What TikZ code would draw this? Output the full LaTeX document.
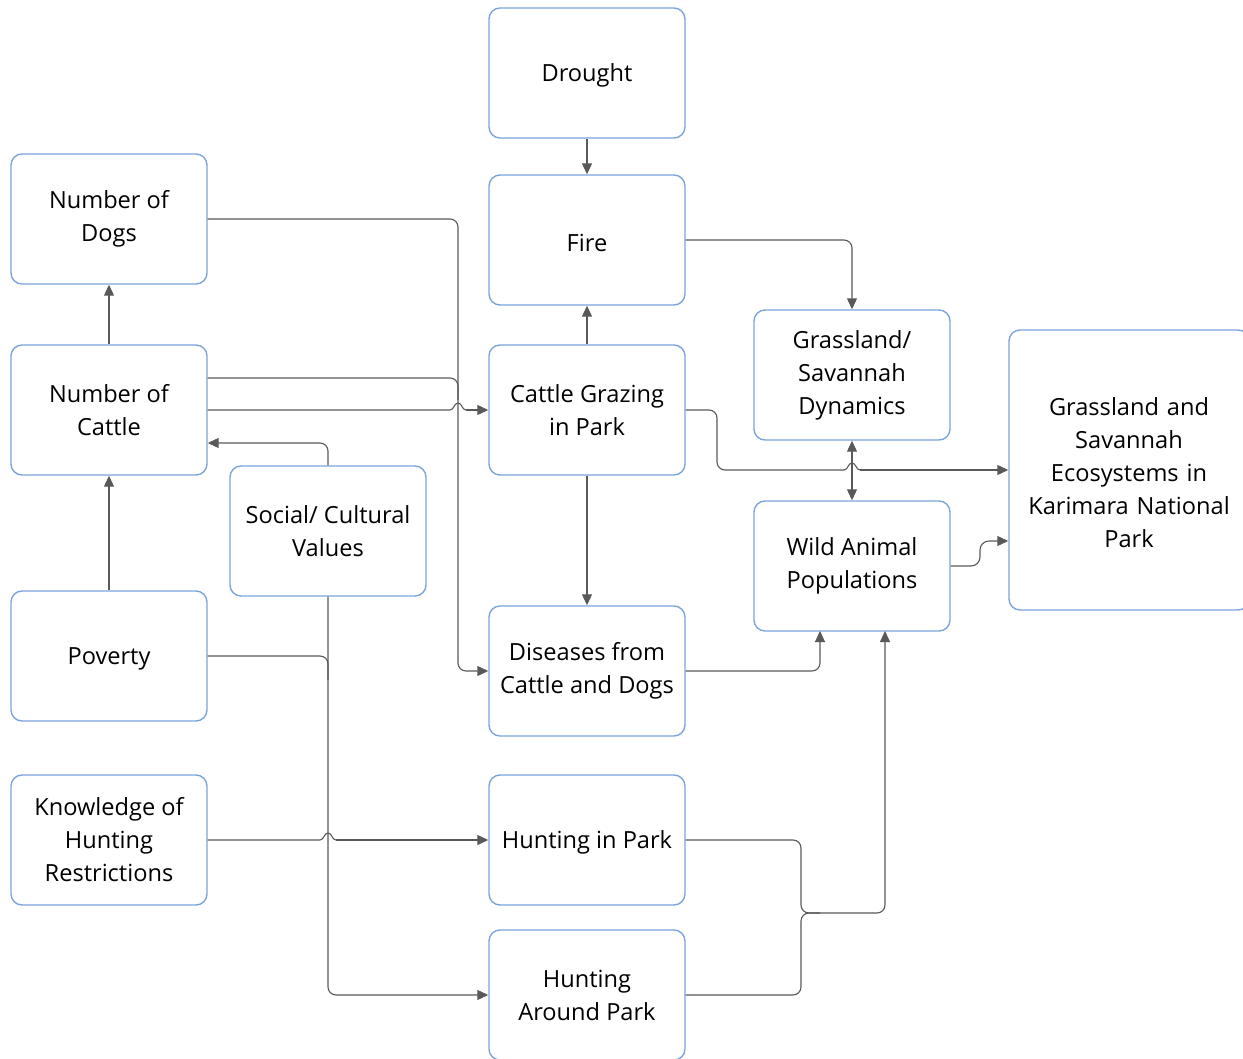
\documentclass[tikz,border=0pt]{standalone}
\usepackage{fontspec}
\setmainfont{Open Sans}
\usetikzlibrary{arrows.meta}
\definecolor{boxblue}{RGB}{124,163,219}
\definecolor{linegray}{RGB}{89,89,89}
\begin{document}
\begin{tikzpicture}[x=1pt,y=-1pt,
  box/.style={draw=boxblue, line width=1.4pt, rounded corners=11pt, minimum width=196pt, minimum height=130pt, align=center, font=\fontsize{23.6}{33}\selectfont, inner sep=2pt, execute at begin node={\rule{0pt}{23.5pt}}},
  conn/.style={draw=linegray, line width=1.1pt, rounded corners=8pt, -{Triangle[length=11pt,width=10pt]}},
  plain/.style={draw=linegray, line width=1.1pt, rounded corners=8pt},
  hop/.style={draw=linegray, line width=1.1pt}
]
\useasboundingbox (0,0) rectangle (1243,1059);
\node[box] (drought) at (587,73) {Drought};
\node[box] (fire) at (587,240) {Fire};
\node[box] (dogs) at (109,219) {Number of\\Dogs};
\node[box] (cattle) at (109,410) {Number of\\Cattle};
\node[box] (grazing) at (587,410) {Cattle Grazing\\in Park};
\node[box] (dyn) at (852,375) {Grassland/\\Savannah\\Dynamics};
\node[box, minimum width=240pt, minimum height=280pt, text width=230pt] (eco) at (1129,470) {Grassland and\\Savannah\\Ecosystems in\\Karimara National\\Park};
\node[box] (social) at (328,531) {Social/ Cultural\\Values};
\node[box] (wild) at (852,566) {Wild Animal\\Populations};
\node[box] (poverty) at (109,656) {Poverty};
\node[box] (disease) at (587,671) {Diseases from\\Cattle and Dogs};
\node[box] (know) at (109,840) {Knowledge of\\Hunting\\Restrictions};
\node[box] (hunt) at (587,840) {Hunting in Park};
\node[box] (around) at (587,995) {Hunting\\Around Park};

% straight vertical links
\draw[conn] (drought.south) -- (fire.north);
\draw[conn] (cattle.north) -- (dogs.south);
\draw[conn] (grazing.north) -- (fire.south);
\draw[conn] (poverty.north) -- (cattle.south);
\draw[conn] (grazing.south) -- (disease.north);
\draw[conn, {Triangle[length=11pt,width=10pt]}-{Triangle[length=11pt,width=10pt]}] (dyn.south) -- (wild.north);

% dogs and cattle -> diseases
\draw[conn] (dogs.east |- 0,219) -- (458,219) -- (458,671) -- (disease.west |- 0,671);
\draw[plain] (cattle.east |- 0,378) -- (458,378) -- (458,400);
% cattle -> grazing with hop
\draw[hop] (cattle.east |- 0,410) -- (450,410) .. controls (454,410) and (454,403) .. (458,403) .. controls (462,403) and (462,410) .. (466,410);
\draw[conn, rounded corners=0pt] (466,410) -- (grazing.west |- 0,410);
% social -> cattle
\draw[conn] (social.north) -- (328,443) -- (cattle.east |- 0,443);
% fire -> dynamics
\draw[conn] (fire.east |- 0,240) -- (852,240) -- (dyn.north);
% grazing -> eco with hop
\draw[plain] (grazing.east |- 0,410) -- (717,410) -- (717,470) -- (844,470);
\draw[hop] (844,470) .. controls (848,470) and (848,463) .. (852,463) .. controls (856,463) and (856,470) .. (860,470);
\draw[conn, rounded corners=0pt] (860,470) -- (eco.west |- 0,470);
% wild -> eco
\draw[conn, rounded corners=9pt] (wild.east |- 0,566) -- (980,566) -- (980,541) -- (eco.west |- 0,541);
% diseases -> wild
\draw[conn] (disease.east |- 0,671) -- (820,671) -- (820,631);
% poverty, social -> hunting around park
\draw[plain] (poverty.east |- 0,656) -- (328,656) -- (328,680);
\draw[conn] (social.south) -- (328,995) -- (around.west |- 0,995);
% knowledge -> hunting in park with hop
\draw[hop] (know.east |- 0,840) -- (320,840) .. controls (324,840) and (324,833) .. (328,833) .. controls (332,833) and (332,840) .. (336,840);
\draw[conn, rounded corners=0pt] (336,840) -- (hunt.west |- 0,840);
% hunting -> wild
\draw[conn] (hunt.east |- 0,840) -- (801,840) -- (801,913) -- (885,913) -- (885,631);
\draw[plain] (around.east |- 0,995) -- (801,995) -- (801,913) -- (820,913);
\end{tikzpicture}
\end{document}
